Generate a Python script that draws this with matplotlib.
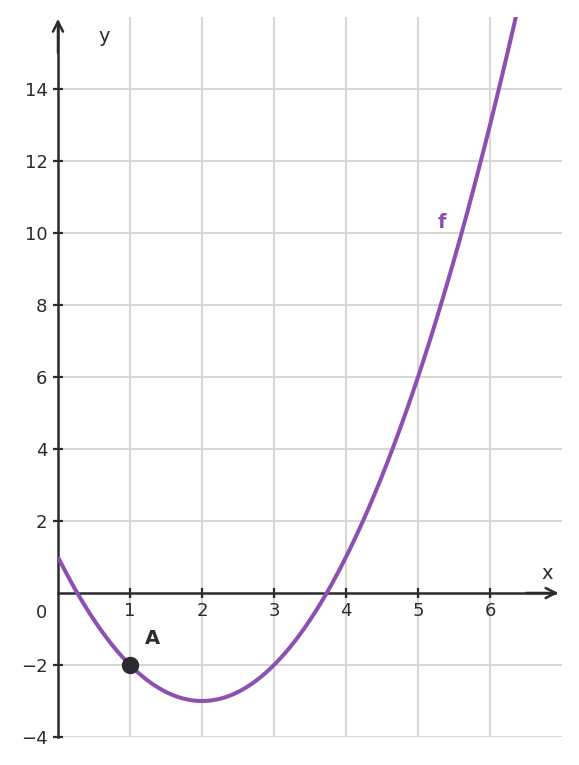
import numpy as np
import matplotlib
matplotlib.use("Agg")
import matplotlib.pyplot as plt

# quadratic f(x) = a x^2 + b x + c
coeffs = [1, -4, 1]
x_start, x_end = 0.0, 6.36
point_A = (1, -2)
x_ticks = [1, 2, 3, 4, 5, 6]
y_ticks = [-4, -2, 2, 4, 6, 8, 10, 12, 14]
x_grid = [1, 2, 3, 4, 5, 6]

purple = "#8e4fb3"
dark = "#2b2b2f"
gridc = "#d6d6d6"

fig = plt.figure(figsize=(5.79, 7.65), dpi=100)
ax = fig.add_axes([58/579, 28/765, (562-58)/579, (737-17)/765])
ax.set_xlim(0, 7)
ax.set_ylim(-4, 16)

for gx in x_grid:
    ax.axvline(gx, color=gridc, lw=1.4, zorder=0)
for gy in y_ticks:
    ax.axhline(gy, color=gridc, lw=1.4, zorder=0)

xs = np.linspace(x_start, x_end, 400)
ys = np.polyval(coeffs, xs)
ax.plot(xs, ys, color=purple, lw=2.9, zorder=3, solid_capstyle="butt")
ax.plot([point_A[0]], [point_A[1]], "o", color=dark, ms=11.5, zorder=4)

for s in ["top", "right"]:
    ax.spines[s].set_visible(False)
ax.spines["left"].set_position(("data", 0))
ax.spines["bottom"].set_position(("data", 0))
ax.spines["left"].set_bounds(-4, 15.8)
ax.spines["bottom"].set_bounds(0, 6.9)
for s in ["left", "bottom"]:
    ax.spines[s].set_color(dark)
    ax.spines[s].set_linewidth(1.8)

ax.annotate("", xy=(6.95, 0), xytext=(6.5, 0),
            arrowprops=dict(arrowstyle="->", lw=1.8, color=dark,
                            mutation_scale=18, shrinkA=0, shrinkB=0))
ax.annotate("", xy=(0, 15.95), xytext=(0, 15.0),
            arrowprops=dict(arrowstyle="->", lw=1.8, color=dark,
                            mutation_scale=18, shrinkA=0, shrinkB=0))

ax.set_xticks(x_ticks)
ax.set_yticks(y_ticks)
ax.set_xticklabels([str(t) for t in x_ticks])
ax.set_yticklabels([str(t).replace("-", "\u2212") for t in y_ticks])
ax.tick_params(axis="both", direction="inout", length=7, width=1.6,
               color=dark, labelcolor=dark, labelsize=13)
ax.tick_params(axis="x", pad=3)
ax.tick_params(axis="y", pad=4)

ax.text(-0.23, -0.55, "0", fontsize=13, color=dark, ha="center", va="center")
ax.text(6.8, 0.55, "x", fontsize=14, color=dark, ha="center", va="center")
ax.text(0.64, 15.47, "y", fontsize=14, color=dark, ha="center", va="center")
ax.text(5.33, 10.3, "f", fontsize=14, color=purple, fontweight="bold",
        ha="center", va="center")
ax.text(1.31, -1.25, "A", fontsize=14, color=dark, fontweight="bold",
        ha="center", va="center")

fig.savefig("out.png", dpi=100)
